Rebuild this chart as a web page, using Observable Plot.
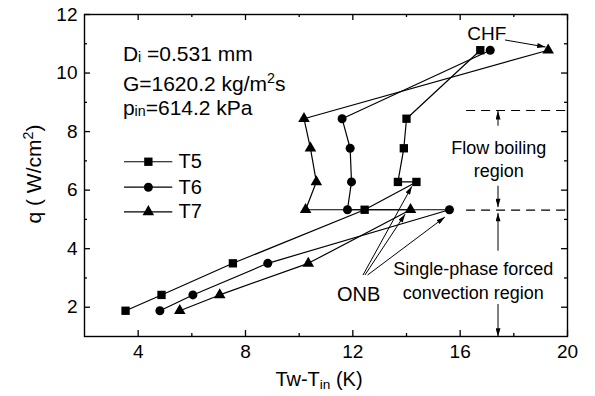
<!DOCTYPE html>
<html><head><meta charset="utf-8">
<script src="https://cdn.jsdelivr.net/npm/d3@7"></script>
<script src="https://cdn.jsdelivr.net/npm/@observablehq/plot@0.6"></script>
<style>
body{margin:0;background:#fff;}
#chart svg{font-family:"Liberation Sans",Arial,Helvetica,sans-serif;}
</style></head><body><div id="chart"></div>
<script>
// ---- data ----
const seriesNames = ["T5", "T6", "T7"];
const t5x = [3.53, 4.87, 7.53, 12.44, 14.37, 13.68, 13.90, 14.00, 16.75];
const t5q = [1.88, 2.42, 3.50, 5.33, 6.28, 6.28, 7.43, 8.44, 10.78];
const t6x = [4.81, 6.04, 8.83, 15.60, 11.80, 11.95, 11.90, 11.60, 17.12];
const t6q = [1.88, 2.42, 3.50, 5.33, 5.33, 6.28, 7.43, 8.44, 10.78];
const t7x = [5.55, 7.04, 10.34, 14.15, 10.24, 10.64, 10.42, 10.18, 19.28];
const t7q = [1.88, 2.42, 3.50, 5.33, 5.33, 6.28, 7.43, 8.44, 10.78];

const xMajor = [4, 8, 12, 16, 20];
const xMinor = [6, 10, 14, 18];
const yMajor = [2, 4, 6, 8, 10, 12];
const yMinor = [3, 5, 7, 9, 11];

// legend entries (data coords)
const legendY = [6.97, 6.10, 5.26];
const legendLineX = [3.49, 5.29];
const legendMarkX = 4.38;
const legendTextX = 5.5;

// region boundaries (dashed) and annotation arrows
const dashRows = [{q: 8.72}, {q: 5.32}];
const dashX = [16.24, 20];
const arrowRows = [
  {x1: 17.67, y1: 11.13, x2: 19.18, y2: 10.89},   // CHF
  {x1: 12.38, y1: 3.10, x2: 14.20, y2: 6.13},     // ONB -> T5
  {x1: 12.45, y1: 3.10, x2: 13.95, y2: 5.18},     // ONB -> T7
  {x1: 12.55, y1: 3.10, x2: 15.43, y2: 5.08},     // ONB -> T6
  {x1: 17.41, y1: 8.20, x2: 17.41, y2: 8.70},
  {x1: 17.41, y1: 6.15, x2: 17.41, y2: 5.42},
  {x1: 17.41, y1: 3.93, x2: 17.41, y2: 5.22},
  {x1: 17.41, y1: 2.11, x2: 17.41, y2: 1.0}
];
const labelRows = [
  {text: "CHF", x: 16.99, y: 11.34, size: 19},
  {text: "ONB", x: 12.22, y: 2.43, size: 20},
  {text: "Flow boiling", x: 17.44, y: 7.43, size: 18},
  {text: "region", x: 17.44, y: 6.63, size: 18},
  {text: "Single-phase forced", x: 16.49, y: 3.31, size: 18},
  {text: "convection region", x: 16.49, y: 2.49, size: 18}
];
const infoX = 3.45;
const infoY = [10.39, 9.38, 8.55];

// ---- build ----
const symbols = {T5: "square", T6: "circle", T7: "triangle"};
const radius = {T5: 4.7, T6: 4.5, T7: 4.3};
const rows = [];
[["T5", t5x, t5q], ["T6", t6x, t6q], ["T7", t7x, t7q]].forEach(([s, xs, qs]) =>
  xs.forEach((x, i) => rows.push({series: s, x, q: qs[i]})));
const legendRows = seriesNames.map((s, i) => ({series: s, y: legendY[i]}));

const W = 595, H = 396, mL = 84, mR = 28, mT = 14, mB = 60;
const innerW = W - mL - mR, innerH = H - mT - mB;
const font = "Liberation Sans, Arial, Helvetica, sans-serif";

const plot = Plot.plot({
  width: W, height: H,
  marginLeft: mL, marginRight: mR, marginTop: mT, marginBottom: mB,
  style: {fontFamily: font, background: "white", color: "black"},
  x: {domain: [2, 20]},
  y: {domain: [1, 12]},
  marks: [
    Plot.ruleY(dashRows, {y: "q", x1: dashX[0], x2: dashX[1], stroke: "black", strokeWidth: 1.2, strokeDasharray: "9,6"}),
    Plot.line(rows, {x: "x", y: "q", z: "series", stroke: "black", strokeWidth: 1.2}),
    ...seriesNames.map(s => Plot.dot(rows.filter(d => d.series === s),
      {x: "x", y: "q", symbol: symbols[s], r: radius[s], fill: "black", stroke: "none"})),
    // legend
    Plot.ruleY(legendRows, {y: "y", x1: legendLineX[0], x2: legendLineX[1], stroke: "black", strokeWidth: 1.2}),
    ...seriesNames.map(s => Plot.dot(legendRows.filter(d => d.series === s),
      {x: legendMarkX, y: "y", symbol: symbols[s], r: radius[s], fill: "black", stroke: "none"})),
    Plot.text(legendRows, {x: legendTextX, y: "y", text: "series", textAnchor: "start", fontSize: 20, fill: "black"}),
    // annotations
    Plot.link(arrowRows, {x1: "x1", y1: "y1", x2: "x2", y2: "y2", stroke: "black", strokeWidth: 1}),
    ...labelRows.map(d => Plot.text([d], {x: "x", y: "y", text: "text", fontSize: d.size, fill: "black"})),
    // frame and ticks (inward)
    Plot.frame({stroke: "black", strokeWidth: 1.4}),
    Plot.ruleX(xMajor, {x: d => d, insetTop: innerH - 6, stroke: "black", strokeWidth: 1.3}),
    Plot.ruleX(xMajor, {x: d => d, insetBottom: innerH - 6, stroke: "black", strokeWidth: 1.3}),
    Plot.ruleX(xMinor, {x: d => d, insetTop: innerH - 3, stroke: "black", strokeWidth: 1.3}),
    Plot.ruleX(xMinor, {x: d => d, insetBottom: innerH - 3, stroke: "black", strokeWidth: 1.3}),
    Plot.ruleY(yMajor, {y: d => d, insetRight: innerW - 6, stroke: "black", strokeWidth: 1.3}),
    Plot.ruleY(yMajor, {y: d => d, insetLeft: innerW - 6, stroke: "black", strokeWidth: 1.3}),
    Plot.ruleY(yMinor, {y: d => d, insetRight: innerW - 3, stroke: "black", strokeWidth: 1.3}),
    Plot.ruleY(yMinor, {y: d => d, insetLeft: innerW - 3, stroke: "black", strokeWidth: 1.3}),
    Plot.axisX({ticks: xMajor, tickSize: 0, tickPadding: 8, fontSize: 19, label: null}),
    Plot.axisY({ticks: yMajor, tickSize: 0, tickPadding: 7, fontSize: 19, label: null})
  ]
});

// ---- rich text (subscripts / superscripts) and arrowheads ----
const svg = d3.select(plot);
const sx = plot.scale("x"), sy = plot.scale("y");
svg.append("defs").append("marker")
  .attr("id", "ah").attr("viewBox", "0 0 10 6").attr("refX", 10).attr("refY", 3)
  .attr("markerWidth", 9).attr("markerHeight", 5).attr("markerUnits", "userSpaceOnUse")
  .attr("orient", "auto")
  .append("path").attr("d", "M0,0L10,3L0,6Z").attr("fill", "black");
svg.selectAll('g[aria-label="link"] path').attr("marker-end", "url(#ah)");

const g = svg.append("g").attr("font-family", font).attr("fill", "black");
function rich(parts, x, y, size, anchor) {
  const t = g.append("text").attr("x", x).attr("y", y).attr("font-size", size)
    .attr("text-anchor", anchor || "start");
  parts.forEach(p => {
    const ts = t.append("tspan").text(p.t);
    if (p.sub) ts.attr("font-size", size * 0.68).attr("dy", p.dy);
    else if (p.dy) ts.attr("dy", p.dy);
  });
  return t;
}
const ix = sx.apply(infoX);
rich([{t: "D"}, {t: "i", sub: true, dy: 1}, {t: " =0.531 mm", dy: -1}], ix, sy.apply(infoY[0]), 21);
rich([{t: "G=1620.2 kg/m"}, {t: "2", sub: true, dy: -8}, {t: "s", dy: 8}], ix, sy.apply(infoY[1]), 21);
rich([{t: "p"}, {t: "in", sub: true, dy: 1}, {t: "=614.2 kPa", dy: -1}], ix, sy.apply(infoY[2]), 21);

// axis titles
rich([{t: "Tw-T"}, {t: "in", sub: true, dy: 3}, {t: " (K)", dy: -3}], 319, 386, 20, "middle");
rich([{t: "q ( W/cm"}, {t: "2", sub: true, dy: -8}, {t: ")", dy: 8}], 0, 0, 21, "middle")
  .attr("transform", "translate(41,174) rotate(-90)");

document.getElementById("chart").appendChild(plot);
</script></body></html>
